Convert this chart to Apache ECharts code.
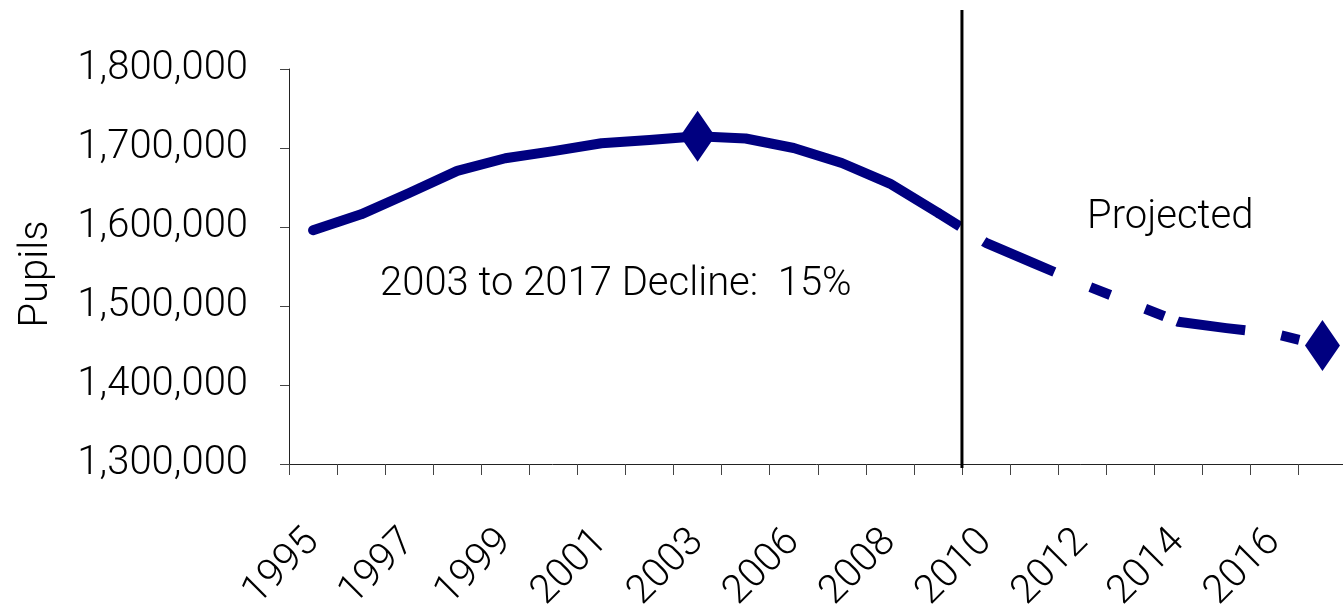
<!DOCTYPE html>
<html>
<head>
<meta charset="utf-8">
<title>Pupils 1995–2017</title>
<script src="https://cdn.jsdelivr.net/npm/echarts@6/dist/echarts.min.js"></script>
<style>
  html, body { margin: 0; padding: 0; background: #fff; }
  #chart { width: 1343px; height: 609px; }
</style>
</head>
<body>
<div id="chart"></div>
<script>
// School years on the category axis (one year is absent from the series)
const years = ['1995', '1996', '1997', '1998', '1999', '2000', '2001', '2002', '2003',
               '2005', '2006', '2007', '2008', '2009', '2010', '2011', '2012', '2013',
               '2014', '2015', '2016', '2017'];

// Enrolment, 1995–2009 (actual)
const actualYears = ['1995', '1996', '1997', '1998', '1999', '2000', '2001', '2002', '2003',
                     '2005', '2006', '2007', '2008', '2009'];
const actualPupils = [1596000, 1616000, 1643000, 1671000, 1687000, 1696000, 1706000, 1710000,
                      1715000, 1712000, 1700000, 1681000, 1655000, 1618000];

// Enrolment, 2009–2017 (projected, starts from the last actual year)
const projectedYears = ['2009', '2010', '2011', '2012', '2013', '2014', '2015', '2016', '2017'];
const projectedPupils = [1618000, 1580000, 1554000, 1528000, 1504000, 1480000, 1472000,
                         1465000, 1450000];

// Years highlighted with a diamond marker
const markerYears = ['2003', '2017'];

// Value axis ticks
const yMin = 1300000;
const yMax = 1800000;
const yStep = 100000;

// Annotation texts
const declineText = '2003 to 2017 Decline:  15%';
const projectedText = 'Projected';
const yTitle = 'Pupils';

// Split into the two styled series on the shared category axis
const lookup = {};
actualYears.forEach((y, i) => { lookup[y] = actualPupils[i]; });
projectedYears.forEach((y, i) => { lookup[y] = projectedPupils[i]; });

const solidData = years.map(y => {
  const i = actualYears.indexOf(y);
  return i >= 0 ? actualPupils[i] : null;
});
const dashedData = years.map(y => {
  const i = projectedYears.indexOf(y);
  return i >= 0 ? projectedPupils[i] : null;
});
const markerData = years.map(y => markerYears.includes(y) ? lookup[y] : null);

const NAVY = '#000080';
const FONT = 'Roboto, "Noto Sans", sans-serif';

const chart = echarts.init(document.getElementById('chart'), null, { renderer: 'canvas' });

chart.setOption({
  animation: false,
  backgroundColor: '#fff',
  grid: {
    left: 289,
    top: 69,
    bottom: 145,
    width: 1057.5,
    containLabel: false,
    outerBoundsMode: 'none'
  },
  xAxis: {
    type: 'category',
    data: years,
    boundaryGap: true,
    axisLine: { show: true, lineStyle: { color: '#222', width: 1 } },
    axisTick: { show: true, interval: 0, length: 11, lineStyle: { color: '#444', width: 1 } },
    axisLabel: {
      interval: 1,
      rotate: 45,
      margin: 72,
      fontFamily: FONT,
      fontSize: 40,
      fontWeight: 300,
      color: '#000'
    },
    splitLine: { show: false }
  },
  yAxis: {
    type: 'value',
    min: yMin,
    max: yMax,
    interval: yStep,
    axisLine: { show: true, lineStyle: { color: '#222', width: 1 } },
    axisTick: { show: true, length: 9, lineStyle: { color: '#444', width: 1 } },
    axisLabel: {
      margin: 41,
      fontFamily: FONT,
      fontSize: 40,
      fontWeight: 300,
      color: '#000',
      formatter: v => v.toLocaleString('en-US')
    },
    splitLine: { show: false }
  },
  series: [
    {
      name: 'Actual',
      type: 'line',
      data: solidData,
      symbol: 'none',
      connectNulls: false,
      lineStyle: { color: NAVY, width: 10, cap: 'round', join: 'round' },
      z: 3
    },
    {
      name: 'Projected',
      type: 'line',
      data: dashedData,
      symbol: 'none',
      connectNulls: false,
      lineStyle: {
        color: NAVY,
        width: 10,
        cap: 'butt',
        join: 'round',
        type: [26, 28, 77, 39, 21.5, 37.5, 20.5, 14, 68.5, 36.5, 18.5, 200]
      },
      z: 3
    },
    {
      name: 'Markers',
      type: 'scatter',
      data: markerData,
      symbol: 'diamond',
      symbolSize: [35, 51],
      itemStyle: { color: NAVY, opacity: 1 },
      z: 4
    }
  ],
  graphic: [
    {
      type: 'text',
      left: 380,
      top: 265,
      style: { text: declineText, fill: '#000', font: '300 40px ' + FONT }
    },
    {
      type: 'text',
      left: 1087,
      top: 198,
      style: { text: projectedText, fill: '#000', font: '300 40px ' + FONT }
    },
    {
      type: 'text',
      x: 37,
      y: 274,
      rotation: Math.PI / 2,
      style: {
        text: yTitle,
        fill: '#000',
        font: '300 40px ' + FONT,
        align: 'center',
        verticalAlign: 'middle'
      }
    }
  ]
});

// Divider between actual and projected years, on the category boundary
const xa = chart.convertToPixel({ xAxisIndex: 0 }, '2009');
const xb = chart.convertToPixel({ xAxisIndex: 0 }, '2010');
const xDiv = (xa + xb) / 2;
chart.setOption({
  graphic: [
    {
      id: 'divider',
      type: 'line',
      shape: { x1: xDiv, y1: 10, x2: xDiv, y2: 468 },
      style: { stroke: '#000', lineWidth: 3 },
      z: 5
    }
  ]
});
</script>
</body>
</html>
